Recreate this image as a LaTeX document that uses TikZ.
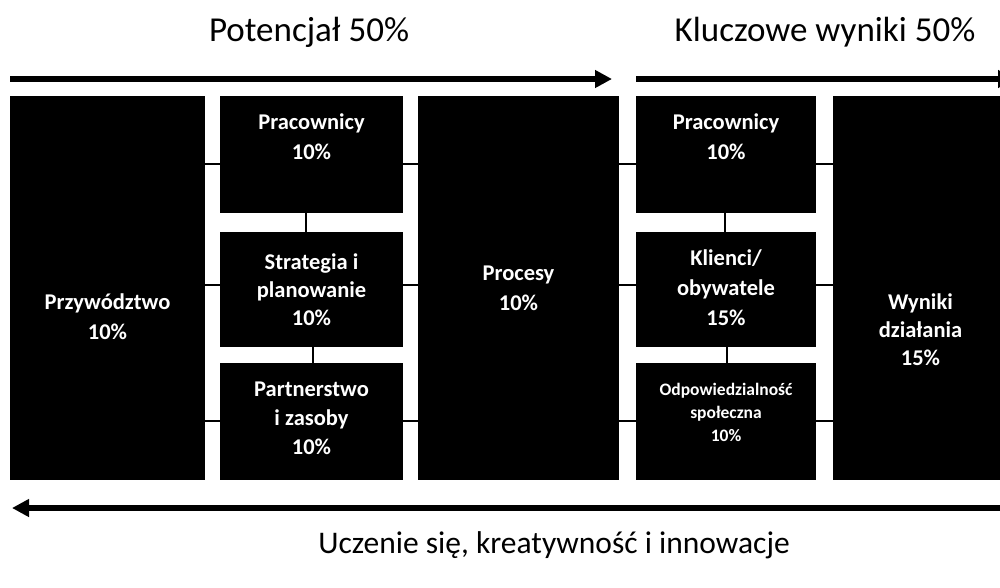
\documentclass[tikz,border=0pt]{standalone}
\usepackage{fontspec}
\setmainfont{Carlito}
\usetikzlibrary{positioning,arrows.meta}
\tikzstyle{box}=[fill=black, inner sep=0pt, outer sep=0pt, anchor=north west]
\tikzstyle{boxtxt}=[text=white, font=\fontsize{22.5}{30}\selectfont\bfseries, align=center, inner sep=0pt]
\tikzstyle{link}=[line width=1.8pt]
\tikzstyle{flow}=[line width=5.5pt, -{Triangle[length=17pt,width=17pt]}]
\tikzstyle{title}=[font=\fontsize{35}{40}\selectfont, inner sep=0pt]

\begin{document}
\begin{tikzpicture}[x=1pt,y=-1pt]
\clip (0,0) rectangle (1000,587);

% headers
\node[title] (pot) at (309,32) {Potencjał 50\%};
\node[title] (klu) at (825,32) {Kluczowe wyniki 50\%};

% left column
\node[box, minimum width=195pt, minimum height=384pt] (prz) at (10,96) {};
\node[boxtxt] (prz-t) at ([yshift=-29pt]prz.center) {Przywództwo\\10\%};

\node[box, minimum width=183pt, minimum height=117pt] (prac1) at (220,96) {};
\node[boxtxt] (prac1-t) at ([yshift=18pt]prac1.center) {Pracownicy\\10\%};
\node[box, minimum width=183pt, minimum height=115pt] (strat) at (220,232) {};
\node[boxtxt, font=\fontsize{22.5}{28}\selectfont\bfseries] (strat-t) at (strat.center) {Strategia i\\planowanie\\10\%};
\node[box, minimum width=183pt, minimum height=117pt] (part) at (220,363) {};
\node[boxtxt, font=\fontsize{22.5}{29}\selectfont\bfseries] (part-t) at ([yshift=3pt]part.center) {Partnerstwo\\i zasoby\\10\%};

\node[box, minimum width=201pt, minimum height=384pt] (proc) at (418,96) {};
\node[boxtxt] (proc-t) at (proc.center) {Procesy\\10\%};

% right column
\node[box, minimum width=180pt, minimum height=117pt] (prac2) at (636,96) {};
\node[boxtxt] (prac2-t) at ([yshift=18pt]prac2.center) {Pracownicy\\10\%};
\node[box, minimum width=180pt, minimum height=115pt] (klie) at (636,232) {};
\node[boxtxt] (klie-t) at ([yshift=2pt]klie.center) {Klienci/\\obywatele\\15\%};
\node[box, minimum width=180pt, minimum height=117pt] (odp) at (636,363) {};
\node[boxtxt, font=\fontsize{17.5}{23}\selectfont\bfseries] (odp-t) at ([yshift=9pt]odp.center) {Odpowiedzialność\\społeczna\\10\%};

\node[box, minimum width=175pt, minimum height=384pt] (wyn) at (833,96) {};
\node[boxtxt, font=\fontsize{22.5}{28}\selectfont\bfseries] (wyn-t) at ([yshift=-42pt]wyn.center) {Wyniki\\działania\\15\%};

% rows of the links
\coordinate (r1) at (0,164);
\coordinate (r2) at (0,285);
\coordinate (r3) at (0,421);
\coordinate (c1) at (306,0);
\coordinate (c2) at (313,0);
\coordinate (c3) at (725,0);
\coordinate (c4) at (727,0);

\draw[link] (prz.east |- r1) -- (prac1.west |- r1);
\draw[link] (prz.east |- r2) -- (strat.west |- r2);
\draw[link] (prz.east |- r3) -- (part.west |- r3);
\draw[link] (prac1.east |- r1) -- (proc.west |- r1);
\draw[link] (strat.east |- r2) -- (proc.west |- r2);
\draw[link] (part.east |- r3) -- (proc.west |- r3);
\draw[link] (proc.east |- r1) -- (prac2.west |- r1);
\draw[link] (proc.east |- r2) -- (klie.west |- r2);
\draw[link] (proc.east |- r3) -- (odp.west |- r3);
\draw[link] (prac2.east |- r1) -- (wyn.west |- r1);
\draw[link] (klie.east |- r2) -- (wyn.west |- r2);
\draw[link] (odp.east |- r3) -- (wyn.west |- r3);
\draw[link] (prac1.south -| c1) -- (strat.north -| c1);
\draw[link] (strat.south -| c2) -- (part.north -| c2);
\draw[link] (prac2.south -| c3) -- (klie.north -| c3);
\draw[link] (klie.south -| c4) -- (odp.north -| c4);

% arrows
\coordinate (a1) at (10,79);
\coordinate (a2) at (612,79);
\coordinate (a3) at (636,79);
\coordinate (a4) at (1015,79);
\coordinate (b1) at (1010,508);
\coordinate (b2) at (12,508);
\draw[flow] (a1) -- (a2);
\draw[flow] (a3) -- (a4);
\draw[flow] (b1) -- (b2);

\node[title, font=\fontsize{31.5}{40}\selectfont] (ucz) at (554,545) {Uczenie się, kreatywność i innowacje};
\end{tikzpicture}
\end{document}
